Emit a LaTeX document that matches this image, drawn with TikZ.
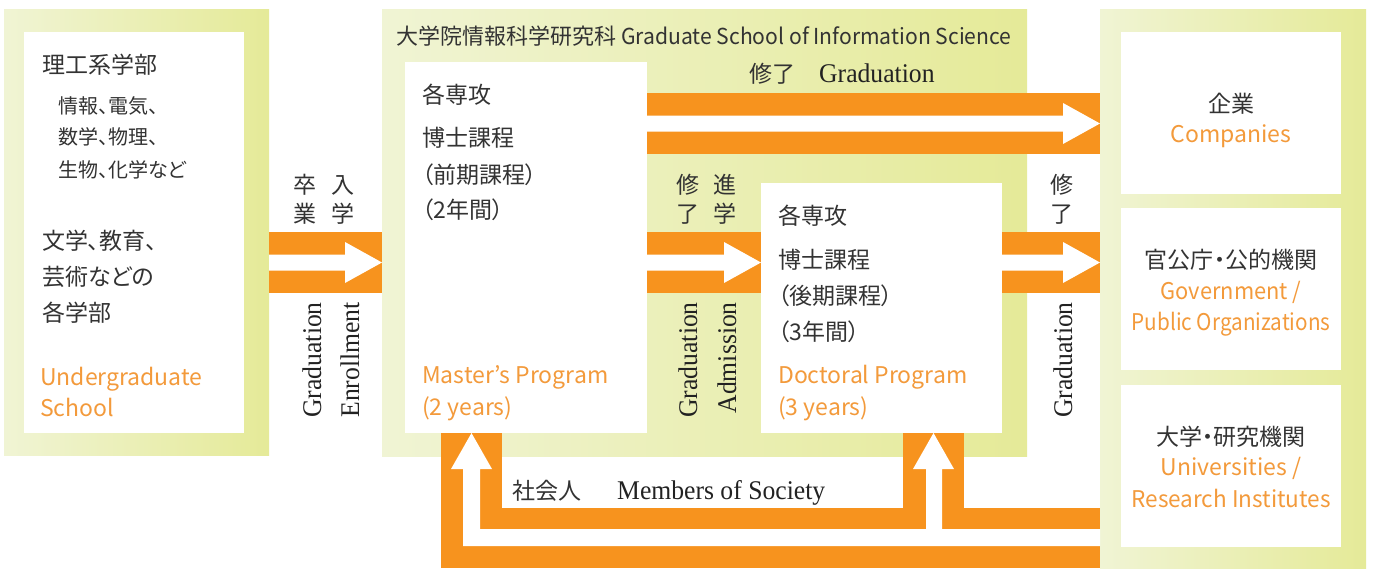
\documentclass[tikz,border=0pt]{standalone}
\usepackage{fontspec}
\setmainfont{Liberation Serif}
\newfontfamily\jp[RawFeature=+palt]{Noto Sans CJK JP}
\newfontfamily\serifc[FakeStretch=0.95]{Liberation Serif}
\usetikzlibrary{calc}
\definecolor{gL}{HTML}{F0F4D4}
\definecolor{gR}{HTML}{E5EA98}
\definecolor{orng}{HTML}{F7931E}
\definecolor{otxt}{HTML}{F39A3B}
\definecolor{txt}{HTML}{333333}
\definecolor{stxt}{HTML}{222222}
\newcommand\bandarrow[2]{%
  \fill[orng] ($(#1)+(0,-30.5)$) rectangle ($(#2)+(0,30.5)$);
  \fill[white] ($(#1)+(0,-8)$) -- ($(#2)+(-37,-8)$) -- ($(#2)+(-37,-20.5)$) -- (#2)
    -- ($(#2)+(-37,20.5)$) -- ($(#2)+(-37,8)$) -- ($(#1)+(0,8)$) -- cycle;
}
\begin{document}
\begin{tikzpicture}[x=1pt,y=-1pt,
  panel/.style={inner sep=0pt, outer sep=0pt, draw=none, left color=gL, right color=gR, anchor=north west},
  wbox/.style={fill=white, draw=none, inner sep=0pt, outer sep=0pt, anchor=north west},
  jt/.style={inner sep=0pt, anchor=base west, text=txt, font=\jp\fontsize{23}{27}\selectfont},
  js/.style={jt, font=\jp\fontsize{20}{24}\selectfont},
  jc/.style={jt, anchor=base},
  et/.style={jt, text=otxt},
  ec/.style={jc, text=otxt},
  st/.style={inner sep=0pt, text=stxt, font=\serifc\fontsize{27}{30}\selectfont},
  sv/.style={st, rotate=90, anchor=east}]
\useasboundingbox (0,0) rectangle (1373,568);
\fill[white] (0,0) rectangle (1373,568);
% panels
\node[panel, minimum width=265pt, minimum height=446pt] (ugp) at (4,9) {};
\node[panel, minimum width=645pt, minimum height=447pt] (gsp) at (382,9) {};
\node[panel, minimum width=266pt, minimum height=559pt] (outp) at (1100,9) {};
% white boxes
\node[wbox, minimum width=220pt, minimum height=401pt] (ug) at (24,32) {};
\node[wbox, minimum width=242pt, minimum height=371pt] (mst) at (405,62) {};
\node[wbox, minimum width=241pt, minimum height=250pt] (doc) at (761,183) {};
\node[wbox, minimum width=220pt, minimum height=162pt] (comp) at (1121,32) {};
\node[wbox, minimum width=220pt, minimum height=162pt] (gov) at (1121,208) {};
\node[wbox, minimum width=220pt, minimum height=162pt] (univ) at (1121,385) {};
% arrow rows
\coordinate (rowA) at (0,262.5);
\coordinate (rowB) at (0,123.5);
\bandarrow{ugp.east |- rowA}{gsp.west |- rowA}
\bandarrow{mst.east |- rowA}{doc.west |- rowA}
\bandarrow{doc.east |- rowA}{outp.west |- rowA}
\bandarrow{mst.east |- rowB}{outp.west |- rowB}
% members of society loops
\fill[orng] (441,433) rectangle (502,508);
\fill[orng] (903,433) rectangle (964,508);
\fill[orng] (441,508) rectangle (1100,568);
\fill[white] (1100,529) -- (942,529) -- (942,469) -- (954,469) -- (933.5,433) -- (913,469)
  -- (926,469) -- (926,529) -- (480,529) -- (480,469) -- (492,469) -- (471.5,433)
  -- (451,469) -- (463,469) -- (463,546) -- (1100,546) -- cycle;
% left panel text
\node[jt] (t1) at (42,73) {理工系学部};
\node[js] (t2) at (58,113) {情報、電気、};
\node[js] (t3) at (58,144) {数学、物理、};
\node[js] (t4) at (58,177) {生物、化学など};
\node[jt] (t5) at (42,249) {文学、教育、};
\node[jt] (t6) at (42,285) {芸術などの};
\node[jt] (t7) at (42,321) {各学部};
\node[et] (t8) at (40,385) {Undergraduate};
\node[et] (t9) at (40,416) {School};
% title
\node[jt, font=\jp\fontsize{22}{26}\selectfont] (title) at (396,44) {大学院情報科学研究科 \scalebox{0.96}[1]{Graduate School of Information Science}};
% master
\node[jt] (m1) at (422,103) {各専攻};
\node[jt] (m2) at (422,146) {博士課程};
\node[jt] (m3) at (422,183) {（前期課程）};
\node[jt] (m4) at (422,218) {（2年間）};
\node[et] (m5) at (422,383) {Master’s Program};
\node[et] (m6) at (422,415) {(2 years)};
% doctoral
\node[jt] (d1) at (778,224) {各専攻};
\node[jt] (d2) at (778,268) {博士課程};
\node[jt] (d3) at (778,304) {（後期課程）};
\node[jt] (d4) at (778,340) {（3年間）};
\node[et] (d5) at (778,383) {Doctoral Program};
\node[et] (d6) at (778,415) {(3 years)};
% right boxes
\node[jc] (c1) at (1231,112) {企業};
\node[ec] (c2) at (1231,142) {Companies};
\node[jc] (g1) at (1231,268) {官公庁・公的機関};
\node[ec] (g2) at (1231,299) {\scalebox{0.95}[1]{Government /}};
\node[ec] (g3) at (1231,330) {\scalebox{0.9}[1]{Public Organizations}};
\node[jc] (u1) at (1231,445) {大学・研究機関};
\node[ec] (u2) at (1231,475) {Universities /};
\node[ec] (u3) at (1231,507) {\scalebox{0.98}[1]{Research Institutes}};
% arrow labels
\node[jt] (lgrad) at (749,82) {修了\hspace{24pt}{\serifc\fontsize{27}{30}\selectfont\color{stxt}Graduation}};
\node[jt] (lsoc) at (512,499) {社会人\hspace{36pt}{\serifc\fontsize{27}{30}\selectfont\color{stxt}Members of Society}};
\node[jc] (a1) at (305,193) {卒};
\node[jc] (a2) at (305,222) {業};
\node[jc] (a3) at (343,193) {入};
\node[jc] (a4) at (343,222) {学};
\node[jc] (b1) at (688,193) {修};
\node[jc] (b2) at (688,222) {了};
\node[jc] (b3) at (725,193) {進};
\node[jc] (b4) at (725,222) {学};
\node[jc] (e1) at (1062,193) {修};
\node[jc] (e2) at (1062,222) {了};
\node[sv] (v1) at (312,302) {Graduation};
\node[sv] (v2) at (350,302) {Enrollment};
\node[sv] (v3) at (688,302) {Graduation};
\node[sv] (v4) at (727,302) {Admission};
\node[sv] (v5) at (1063,302) {Graduation};
\end{tikzpicture}
\end{document}
